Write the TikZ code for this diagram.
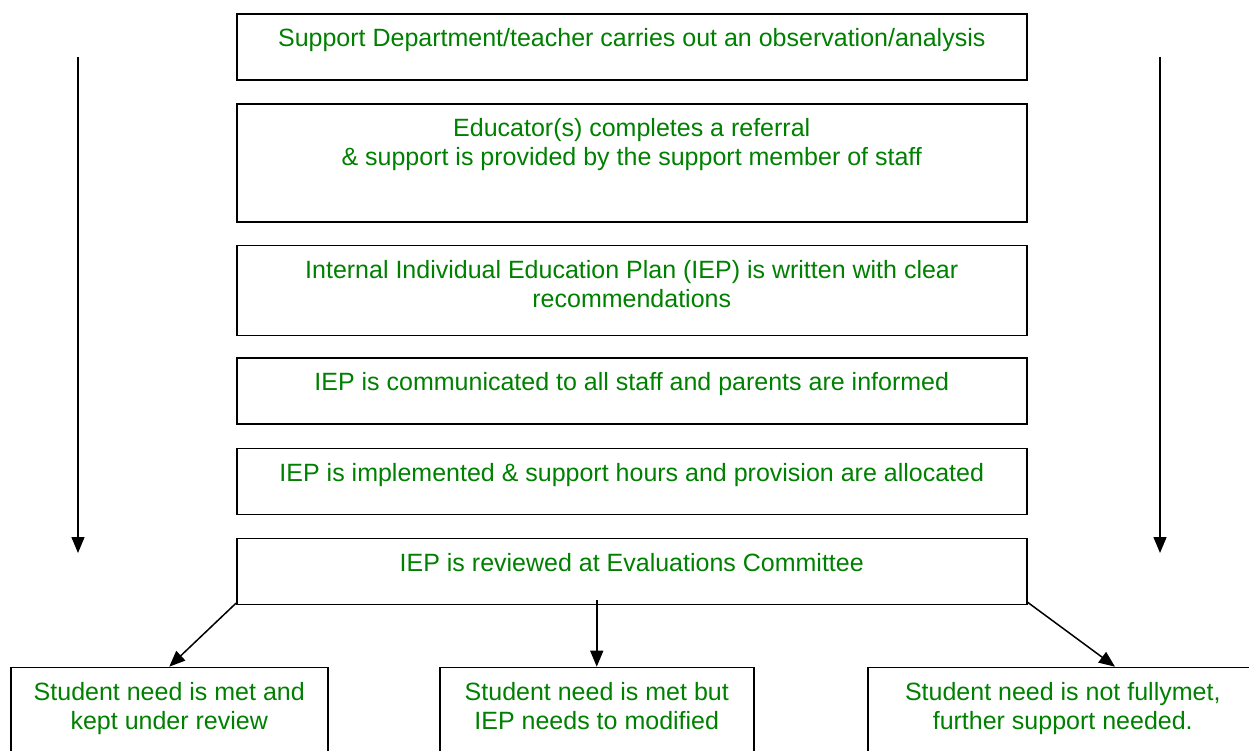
\documentclass[tikz,border=0pt]{standalone}
\usepackage{fontspec}
\setmainfont{Liberation Sans}
\usetikzlibrary{arrows.meta,calc}
\definecolor{txtgreen}{RGB}{0,128,0}
\begin{document}
\begin{tikzpicture}[x=1pt,y=-1pt,
  stepbox/.style={rectangle,draw=black,line width=1.5pt,inner sep=0pt,
    anchor=north west,minimum width=790pt},
  outbox/.style={rectangle,draw=black,line width=1.5pt,inner sep=0pt,
    anchor=north west,minimum height=130pt},
  txt/.style={text=txtgreen,font=\fontsize{25}{29}\selectfont,align=center,
    inner sep=0pt,anchor=base},
  conn/.style={draw=black,line width=1.5pt,-{Triangle[length=16pt,width=13pt]}}]
\useasboundingbox (0,0) rectangle (1249,751);
\clip (0,0) rectangle (1249,751);

% main sequence of steps
\node[stepbox,minimum height=66pt]  (b1) at (236,13.3) {};
\node[stepbox,minimum height=118pt] (b2) at (236,103.3) {};
\node[stepbox,minimum height=90pt]  (b3) at (236,244.7) {};
\node[stepbox,minimum height=66pt]  (b4) at (236,357.3) {};
\node[stepbox,minimum height=66pt]  (b5) at (236,447.7) {};
\node[stepbox,minimum height=66pt]  (b6) at (236,537.7) {};

% step texts (base anchor sits on the last line of a two-line text)
\node[txt] (t1) at ($(b1.north)+(0,33.5)$) {Support Department/teacher carries out an observation/analysis};
\node[txt] (t2) at ($(b2.north)+(0,62.5)$) {Educator(s) completes a referral\\ \& support is provided by the support member of staff};
\node[txt] (t3) at ($(b3.north)+(0,62.5)$) {Internal Individual Education Plan (IEP) is written with clear\\recommendations};
\node[txt] (t4) at ($(b4.north)+(0,33.5)$) {IEP is communicated to all staff and parents are informed};
\node[txt] (t5) at ($(b5.north)+(0,33.5)$) {IEP is implemented \& support hours and provision are allocated};
\node[txt] (t6) at ($(b6.north)+(0,33.5)$) {IEP is reviewed at Evaluations Committee};

% possible outcomes of the review
\node[outbox,minimum width=317pt] (lft) at (10,666.7) {};
\node[outbox,minimum width=314pt] (mid) at (439,666.7) {};
\node[outbox,minimum width=390pt] (rgt) at (867,666.7) {};

\node[txt] (tl) at ($(lft.north)+(0,62.5)$) {Student need is met and\\kept under review};
\node[txt] (tm) at ($(mid.north)+(0,62.5)$) {Student need is met but\\IEP needs to modified};
\node[txt] (tr) at ($(rgt.north)+(0,62.5)$) {Student need is not fullymet,\\further support needed.};

% connectors
\draw[conn] ($(b6.south west)+(0,-2)$) -- (lft.north);
\draw[conn] ($(b6.south -| mid.north)+(0,-5)$) -- (mid.north);
\coordinate (rtip) at ($(rgt.north west)+(248,0)$);
\draw[conn] ($(b6.south east)+(0,-3)$) -- (rtip);

% side arrows showing the flow
\coordinate (ls) at (78,57);
\coordinate (le) at (78,553);
\coordinate (rs) at (1160,57);
\coordinate (re) at (1160,553);
\draw[conn] (ls) -- (le);
\draw[conn] (rs) -- (re);
\end{tikzpicture}
\end{document}
